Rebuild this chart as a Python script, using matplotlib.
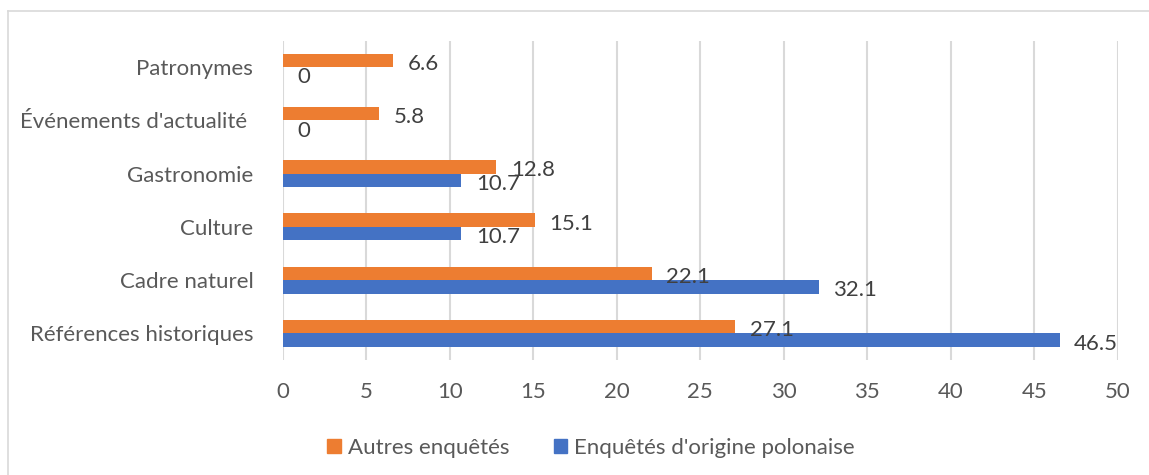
import matplotlib
matplotlib.use("Agg")
import matplotlib.pyplot as plt
from matplotlib.patches import Patch
from matplotlib.lines import Line2D
import numpy as np

categories = ["Patronymes", "Événements d'actualité ", "Gastronomie", "Culture",
              "Cadre naturel", "Références historiques"]
autres = [6.6, 5.8, 12.8, 15.1, 22.1, 27.1]
polonaise = [0, 0, 10.7, 10.7, 32.1, 46.5]
series_names = ["Autres enquêtés", "Enquêtés d'origine polonaise"]
xticks = [0, 5, 10, 15, 20, 25, 30, 35, 40, 45, 50]

ORANGE = "#ED7D31"
BLUE = "#4472C4"
GRID = "#D9D9D9"
TICK_C = "#595959"
LAB_C = "#404040"
FONT = "Lato"
FS = 16

plt.rcParams['font.family'] = [FONT, 'DejaVu Sans']

W, H = 1149, 475
fig = plt.figure(figsize=(W / 100, H / 100), dpi=100)
ax = fig.add_axes([282.5 / W, 1 - 360 / H, (1118 - 282.5) / W, (360 - 40.5) / H])

y = np.arange(len(categories))
bh = 0.253
ax.barh(y - bh / 2, autres, height=bh, color=ORANGE, zorder=3, label=series_names[0])
ax.barh(y + bh / 2, polonaise, height=bh, color=BLUE, zorder=3, label=series_names[1])

for i in range(len(categories)):
    ax.annotate(f"{autres[i]:g}", xy=(autres[i], y[i] - bh / 2), xytext=(10.5, -2.5),
                textcoords="offset points", ha="left", va="center",
                fontsize=FS, color=LAB_C, zorder=4)
    ax.annotate(f"{polonaise[i]:g}", xy=(polonaise[i], y[i] + bh / 2), xytext=(10.5, -2.5),
                textcoords="offset points", ha="left", va="center",
                fontsize=FS, color=LAB_C, zorder=4)

ax.set_xlim(0, 50)
ax.set_ylim(len(categories) - 0.5, -0.5)
ax.set_xticks(xticks)
ax.set_xticklabels([str(t) for t in xticks])
ax.set_yticks(y)
ax.set_yticklabels(categories)
ax.tick_params(axis="x", length=0, pad=16, labelsize=FS, labelcolor=TICK_C)
ax.tick_params(axis="y", length=0, pad=21, labelsize=FS, labelcolor=TICK_C)
ax.grid(axis="x", color=GRID, linewidth=1.5, zorder=0)
ax.grid(axis="y", visible=False)
for s in ax.spines.values():
    s.set_visible(False)

handles = [Patch(color=ORANGE), Patch(color=BLUE)]
fig.legend(handles, series_names, loc="center", bbox_to_anchor=(591 / W, 1 - 448 / H),
           ncol=2, frameon=False, fontsize=FS, labelcolor=TICK_C,
           handlelength=0.62, handleheight=0.62, handletextpad=0.3, columnspacing=2.0)

# chart-area border (left and top edges visible)
fig.add_artist(Line2D([8 / W, 8 / W], [0, 1 - 11 / H], color=GRID, lw=1.2, transform=fig.transFigure))
fig.add_artist(Line2D([8 / W, 1], [1 - 11 / H, 1 - 11 / H], color=GRID, lw=1.2, transform=fig.transFigure))

fig.savefig("out.png", dpi=100, facecolor="white")
